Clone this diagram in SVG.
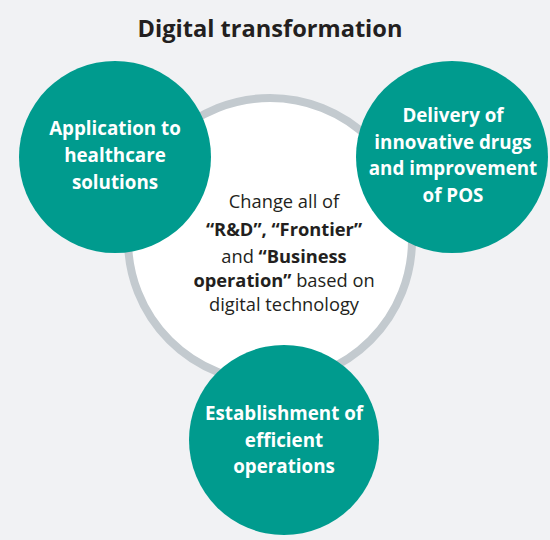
<svg xmlns="http://www.w3.org/2000/svg" width="550" height="540" viewBox="0 0 550 540">
<style>
.bg{fill:#f1f2f4}
.ring{fill:#ffffff;stroke:#c3cacf;stroke-width:8}
.teal{fill:#009b8e}
.title{font-family:"Open Sans","Liberation Sans",sans-serif;font-weight:700;font-size:23.6px;fill:#231f20;text-anchor:middle}
.w{font-family:"Open Sans","Liberation Sans",sans-serif;font-weight:700;font-size:18.8px;fill:#ffffff;text-anchor:middle}
.c{font-family:"Open Sans","Liberation Sans",sans-serif;font-weight:400;font-size:18.3px;fill:#231f20;text-anchor:middle}
.b{font-weight:700}
</style>
<rect class="bg" x="0" y="0" width="550" height="540"/>
<text class="title" x="270" y="37">Digital transformation</text>
<g id="center">
<circle class="ring" cx="270" cy="240" r="142"/>
<text class="c" x="284" y="208">Change all of</text>
<text class="c" x="284" y="236"><tspan class="b">“R&amp;D”, “Frontier”</tspan></text>
<text class="c" x="284" y="263">and <tspan class="b">“Business</tspan></text>
<text class="c" x="284" y="287"><tspan class="b">operation”</tspan> based on</text>
<text class="c" x="284" y="311">digital technology</text>
</g>
<g id="connectors"/>
<g id="healthcare">
<circle class="teal" cx="115" cy="157" r="96"/>
<text class="w" x="115" y="135">Application to</text>
<text class="w" x="115" y="162">healthcare</text>
<text class="w" x="115" y="189">solutions</text>
</g>
<g id="delivery">
<circle class="teal" cx="452" cy="157" r="96"/>
<text class="w" x="453" y="122">Delivery of</text>
<text class="w" x="453" y="149">innovative drugs</text>
<text class="w" x="453" y="175">and improvement</text>
<text class="w" x="453" y="202">of POS</text>
</g>
<g id="operations">
<circle class="teal" cx="284" cy="440" r="95"/>
<text class="w" x="284" y="420">Establishment of</text>
<text class="w" x="284" y="447">efficient</text>
<text class="w" x="284" y="473">operations</text>
</g>
</svg>
